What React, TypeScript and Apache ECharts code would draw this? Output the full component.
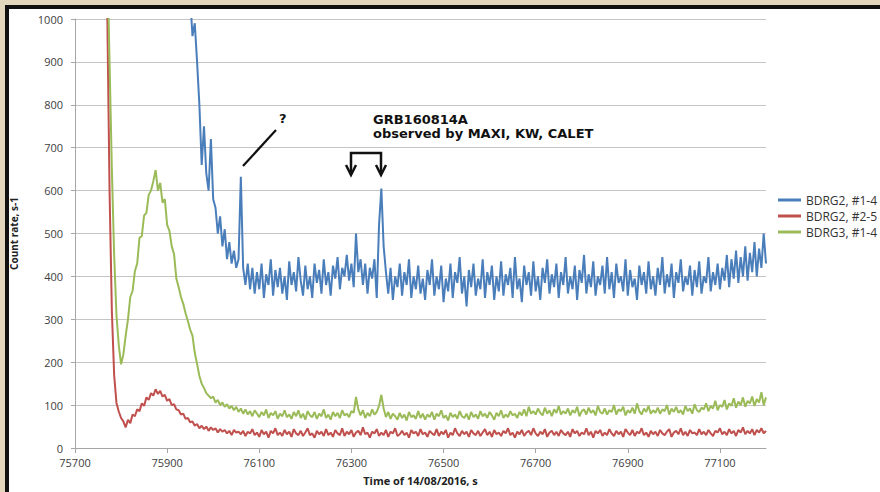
import React, { useEffect, useRef } from "react";
import * as echarts from "echarts";

const STEP = 5;
const X_MIN = 75700;
const X_MAX = 77200;
const X_INTERVAL = 200;
const Y_MIN = 0;
const Y_MAX = 1000;
const Y_INTERVAL = 100;

const SERIES_NAMES = ["BDRG2, #1-4", "BDRG2, #2-5", "BDRG3, #1-4"];

// BDRG2, #1-4 (blue), first sample at 75945 s, every 5 s
const BLUE_START = 75945;
const blueValues = [
  1200, 1050, 960, 990, 900, 800, 660, 750, 640, 600, 720, 580, 560, 500, 540, 470, 510, 440, 480, 430,
  460, 420, 440, 632, 420, 380, 430, 370, 420, 360, 410, 370, 430, 350, 405, 380, 440, 355, 415, 375,
  420, 360, 400, 345, 435, 380, 410, 365, 445, 390, 355, 425, 370, 400, 350, 430, 385, 415, 360, 440,
  380, 410, 355, 425, 395, 445, 370, 420, 400, 450, 390, 430, 375, 500, 410, 440, 380, 430, 360, 420,
  395, 440, 350, 520, 605, 470, 410, 360, 420, 345, 400, 375, 430, 355, 410, 380, 440, 350, 400, 370,
  425, 360, 395, 345, 415, 380, 440, 355, 400, 370, 425, 340, 395, 365, 430, 350, 410, 385, 445, 360,
  400, 330, 415, 375, 430, 355, 395, 370, 440, 350, 410, 380, 425, 345, 400, 365, 435, 355, 405, 380,
  420, 350, 445, 370, 395, 340, 425, 380, 410, 355, 435, 365, 400, 345, 420, 385, 440, 360, 405, 375,
  430, 350, 410, 380, 445, 360, 400, 370, 425, 345, 415, 385, 450, 360, 405, 375, 435, 355, 400, 380,
  425, 360, 445, 370, 410, 350, 430, 385, 400, 365, 440, 355, 415, 375, 395, 345, 425, 380, 410, 360,
  435, 370, 400, 355, 420, 380, 445, 360, 405, 375, 430, 350, 410, 385, 440, 365, 400, 380, 425, 355,
  415, 375, 435, 360, 400, 385, 445, 365, 410, 380, 430, 370, 420, 390, 450, 375, 440, 395, 460, 385,
  445, 400, 470, 390, 455, 410, 480, 400, 465, 420, 500, 430,
];

// BDRG2, #2-5 (red), first sample at 75765 s, every 5 s
const RED_START = 75765;
const redValues = [
  1500, 1020, 600, 320, 170, 105, 85, 70, 62, 48, 66, 58, 78, 74, 90, 86, 104, 98, 118, 112,
  128, 122, 137, 126, 133, 120, 124, 110, 114, 100, 102, 90, 88, 78, 80, 68, 70, 60, 62, 52,
  56, 46, 52, 44, 50, 40, 48, 42, 46, 36, 44, 38, 42, 34, 40, 30, 42, 36, 38, 32,
  40, 28, 38, 34, 44, 30, 36, 26, 42, 32, 38, 24, 40, 34, 46, 30, 36, 28, 42, 32,
  38, 26, 44, 34, 30, 40, 28, 36, 46, 30, 34, 24, 40, 32, 38, 28, 44, 30, 36, 26,
  42, 34, 30, 46, 28, 38, 32, 42, 26, 36, 40, 30, 48, 32, 36, 24, 38, 34, 44, 28,
  36, 30, 42, 26, 38, 34, 46, 28, 32, 40, 30, 36, 24, 42, 34, 38, 28, 44, 32, 36,
  26, 40, 34, 30, 44, 28, 38, 32, 42, 24, 36, 30, 46, 34, 28, 40, 32, 38, 26, 42,
  34, 30, 40, 28, 36, 44, 30, 38, 26, 42, 32, 36, 28, 40, 34, 46, 30, 36, 24, 38,
  32, 42, 28, 36, 40, 30, 46, 34, 28, 38, 32, 44, 26, 36, 40, 30, 38, 28, 42, 34,
  30, 38, 26, 44, 34, 40, 28, 36, 32, 46, 30, 38, 24, 40, 34, 42, 28, 36, 30, 44,
  34, 28, 40, 32, 38, 26, 44, 36, 30, 42, 28, 38, 34, 46, 30, 36, 26, 40, 32, 38,
  28, 42, 34, 30, 38, 44, 26, 36, 40, 32, 46, 30, 38, 28, 42, 34, 36, 30, 44, 32,
  38, 30, 42, 34, 28, 40, 36, 46, 32, 38, 30, 44, 34, 40, 28, 42, 36, 48, 32, 40,
  34, 44, 30, 42, 36, 46, 34, 40,
];

// BDRG3, #1-4 (green), first sample at 75765 s, every 5 s
const GREEN_START = 75765;
const greenValues = [
  1500, 1150, 900, 650, 450, 310, 240, 195, 218, 262, 300, 352, 366, 412, 430, 490, 494, 542, 548, 590,
  600, 622, 648, 600, 618, 572, 580, 520, 506, 470, 452, 395, 375, 352, 336, 314, 296, 276, 262, 222,
  196, 168, 150, 140, 128, 122, 116, 120, 106, 112, 100, 106, 96, 102, 92, 98, 88, 96, 84, 92,
  80, 90, 78, 86, 74, 88, 80, 72, 84, 76, 90, 70, 82, 76, 86, 68, 80, 74, 88, 72,
  78, 68, 84, 74, 88, 70, 80, 66, 86, 76, 72, 84, 68, 80, 74, 90, 70, 78, 66, 84,
  74, 82, 70, 88, 76, 80, 72, 86, 82, 119, 90, 76, 88, 70, 82, 74, 90, 78, 84, 98,
  124, 92, 72, 84, 68, 80, 74, 66, 82, 70, 78, 64, 84, 72, 76, 68, 86, 70, 80, 66,
  78, 72, 84, 66, 80, 74, 88, 70, 76, 64, 82, 72, 78, 68, 86, 74, 70, 80, 66, 84,
  72, 78, 68, 86, 74, 80, 70, 84, 76, 66, 82, 74, 88, 70, 78, 72, 86, 76, 80, 70,
  84, 76, 90, 74, 96, 80, 86, 78, 92, 82, 76, 94, 80, 88, 74, 90, 82, 98, 78, 86,
  80, 92, 76, 88, 82, 96, 74, 86, 90, 78, 94, 82, 88, 76, 98, 84, 80, 92, 78, 88,
  84, 100, 78, 90, 86, 96, 76, 88, 82, 94, 80, 104, 86, 78, 92, 84, 98, 80, 88, 82,
  94, 80, 90, 86, 100, 78, 92, 84, 96, 82, 88, 78, 98, 86, 92, 80, 102, 88, 84, 94,
  90, 104, 86, 98, 92, 110, 88, 100, 96, 112, 90, 104, 98, 116, 94, 108, 100, 118, 96, 110,
  104, 120, 98, 114, 106, 130, 100, 118,
];

const COLORS = ["#4a7ebb", "#c0504d", "#9bbb59"];
const FONT = "'Open Sans', 'Noto Sans', sans-serif";
const ANNOT_FONT = "'DejaVu Sans', sans-serif";

const toPairs = (start: number, vals: number[]) =>
  vals.map((v, i) => [start + i * STEP, v]);

export default function App() {
  const ref = useRef<HTMLDivElement>(null);

  useEffect(() => {
    if (!ref.current) return;
    const chart = echarts.init(ref.current, null, { renderer: "svg" });
    const lineSeries = (name: string, color: string, data: number[][]) => ({
      name,
      type: "line",
      data,
      showSymbol: false,
      symbol: "none",
      clip: true,
      lineStyle: { color, width: 2 },
      itemStyle: { color },
      emphasis: { disabled: true },
    });
    chart.setOption({
      animation: false,
      backgroundColor: "transparent",
      grid: { left: 75, right: 114, top: 19, bottom: 44 },
      legend: {
        orient: "vertical",
        left: 773,
        top: 188,
        itemWidth: 23,
        itemHeight: 3,
        itemGap: 2,
        icon: "rect",
        textStyle: { fontFamily: FONT, fontSize: 12, color: "#333", lineHeight: 14 },
        data: SERIES_NAMES,
      },
      xAxis: {
        type: "value",
        min: X_MIN,
        max: X_MAX,
        interval: X_INTERVAL,
        name: "Time of 14/08/2016, s",
        nameLocation: "middle",
        nameGap: 27,
        nameTextStyle: { fontFamily: FONT, fontSize: 11, fontWeight: "bold", color: "#222" },
        axisLine: { lineStyle: { color: "#a6a6a6" } },
        axisTick: { show: true, length: 5, lineStyle: { color: "#a6a6a6" } },
        axisLabel: {
          fontFamily: FONT,
          fontSize: 11,
          color: "#404040",
          margin: 9,
          showMaxLabel: false,
          formatter: (v: number) => String(v),
        },
        splitLine: { show: false },
      },
      yAxis: {
        type: "value",
        min: Y_MIN,
        max: Y_MAX,
        interval: Y_INTERVAL,
        name: "Count rate, s-1",
        nameLocation: "middle",
        nameGap: 56,
        nameTextStyle: { fontFamily: FONT, fontSize: 10, fontWeight: "bold", color: "#222" },
        axisLine: { show: true, lineStyle: { color: "#a6a6a6" } },
        axisTick: { show: true, length: 4, lineStyle: { color: "#a6a6a6" } },
        axisLabel: {
          fontFamily: FONT,
          fontSize: 11,
          color: "#404040",
          margin: 12,
          formatter: (v: number) => String(v),
        },
        splitLine: { show: true, lineStyle: { color: "#c4c4c4", width: 1 } },
      },
      graphic: [
        { type: "line", shape: { x1: 243, y1: 166, x2: 276, y2: 130 }, style: { stroke: "#111", lineWidth: 2.2 }, z: 100 },
        { type: "text", left: 279, top: 112, style: { text: "?", font: `bold 13px ${ANNOT_FONT}`, fill: "#111" }, z: 100 },
        {
          type: "text",
          left: 373,
          top: 112,
          style: {
            text: "GRB160814A\nobserved by MAXI, KW, CALET",
            font: `bold 13px ${ANNOT_FONT}`,
            lineHeight: 14,
            fill: "#111",
          },
          z: 100,
        },
        { type: "polyline", shape: { points: [[351, 174], [351, 153], [381, 153], [381, 174]] }, style: { stroke: "#111", lineWidth: 2.5, fill: null }, z: 100 },
        { type: "polyline", shape: { points: [[346, 165], [351, 175], [356, 165]] }, style: { stroke: "#111", lineWidth: 2.5, fill: null }, z: 100 },
        { type: "polyline", shape: { points: [[376, 165], [381, 175], [386, 165]] }, style: { stroke: "#111", lineWidth: 2.5, fill: null }, z: 100 },
      ],
      series: [
        lineSeries(SERIES_NAMES[0], COLORS[0], toPairs(BLUE_START, blueValues)),
        lineSeries(SERIES_NAMES[1], COLORS[1], toPairs(RED_START, redValues)),
        lineSeries(SERIES_NAMES[2], COLORS[2], toPairs(GREEN_START, greenValues)),
      ],
    });
    return () => chart.dispose();
  }, []);

  return (
    <div style={{ position: "fixed", left: 0, top: 0, width: 880, height: 492, background: "#e2d6bd", overflow: "hidden" }}>
      <div
        style={{
          position: "absolute",
          left: 5,
          top: 5,
          width: 880,
          height: 492,
          background: "#ffffff",
          borderLeft: "4px solid #111",
          borderTop: "4px solid #111",
        }}
      />
      <div ref={ref} style={{ position: "absolute", left: 0, top: 0, width: 880, height: 492 }} />
    </div>
  );
}
